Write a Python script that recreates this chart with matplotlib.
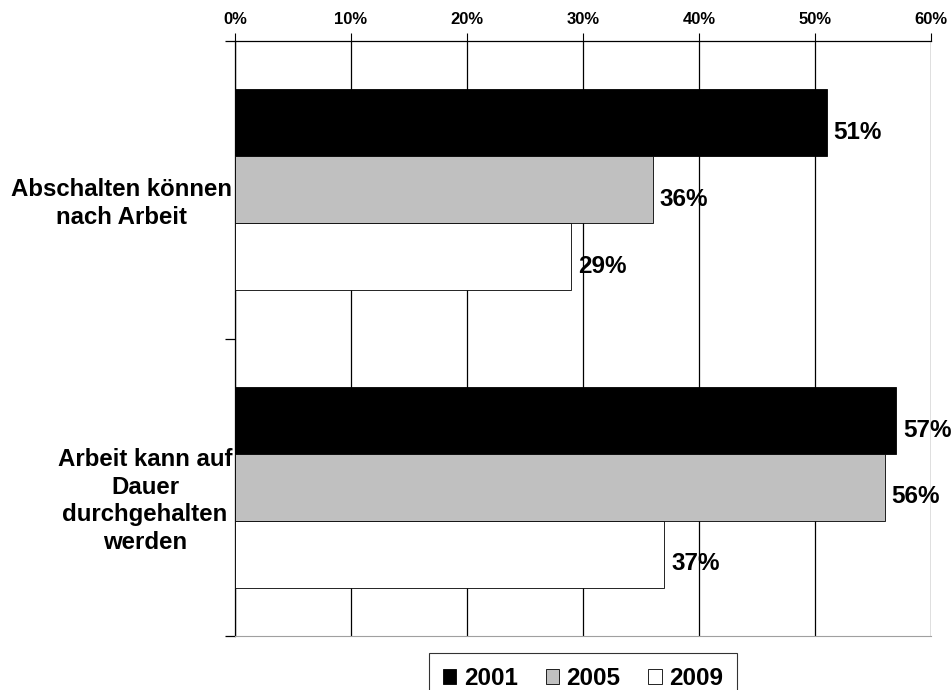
import numpy as np
import matplotlib.pyplot as plt
from matplotlib.transforms import ScaledTranslation

plt.rcParams['font.family'] = ['Liberation Sans', 'DejaVu Sans']
plt.rcParams['font.weight'] = 'bold'

categories = ["Abschalten können\nnach Arbeit", "Arbeit kann auf\nDauer\ndurchgehalten\nwerden"]
years = ["2001", "2005", "2009"]
values = {
    "2001": [51, 57],
    "2005": [36, 56],
    "2009": [29, 37],
}
colors = {"2001": "black", "2005": "#c0c0c0", "2009": "white"}

fig = plt.figure(figsize=(9.53, 6.9), dpi=100)
ax = fig.add_axes([235 / 953, 1 - 636 / 690, (931 - 235) / 953, (636 - 41) / 690])

y = np.arange(len(categories))
h = 0.225
for i, yr in enumerate(years):
    pos = y + (i - 1) * h
    vals = np.array(values[yr]) / 100
    ax.barh(pos, vals, height=h, color=colors[yr], edgecolor="black",
            linewidth=0.6, label=yr, zorder=3)
    for p, v in zip(pos, vals):
        ax.annotate(f"{v * 100:.0f}%", (v, p), xytext=(5, -7), textcoords="offset points",
                    ha="left", va="center", fontsize=17.5, fontweight="bold")

ax.set_xlim(0, 0.6)
ax.set_ylim(1.5, -0.5)
ax.set_xticks(np.arange(0, 0.61, 0.1))
ax.set_xticklabels([f"{int(round(t * 100))}%" for t in np.arange(0, 0.61, 0.1)], fontsize=12)
ax.xaxis.tick_top()
ax.tick_params(axis="x", length=6, width=0.8, color="black", pad=4)
ax.grid(axis="x", color="black", linewidth=0.9, zorder=0)

ax.set_yticks(y)
ax.set_yticklabels(categories, fontsize=17.3, multialignment="center", linespacing=1.25)
ax.set_yticks([-0.5, 0.5, 1.5], minor=True)
ax.tick_params(axis="y", which="major", length=0, pad=2)
ax.tick_params(axis="y", which="minor", length=7, width=0.9)
shift = ScaledTranslation(0, -9 / 100, fig.dpi_scale_trans)
for lab in ax.get_yticklabels():
    lab.set_transform(lab.get_transform() + shift)

ax.spines["right"].set_visible(False)
ax.spines["bottom"].set_color("#a0a0a0")
ax.spines["left"].set_linewidth(0.9)
ax.spines["top"].set_linewidth(0.9)

leg = ax.legend(loc="upper center", bbox_to_anchor=(0.5, -0.028), ncol=3, frameon=True,
                fancybox=False, edgecolor="black", handlelength=0.55,
                handleheight=0.55, handletextpad=0.3, columnspacing=1.15,
                borderpad=0.6, borderaxespad=0, prop={"weight": "bold", "size": 17.5})
leg.get_frame().set_linewidth(0.8)

fig.savefig("out.png", dpi=100)
